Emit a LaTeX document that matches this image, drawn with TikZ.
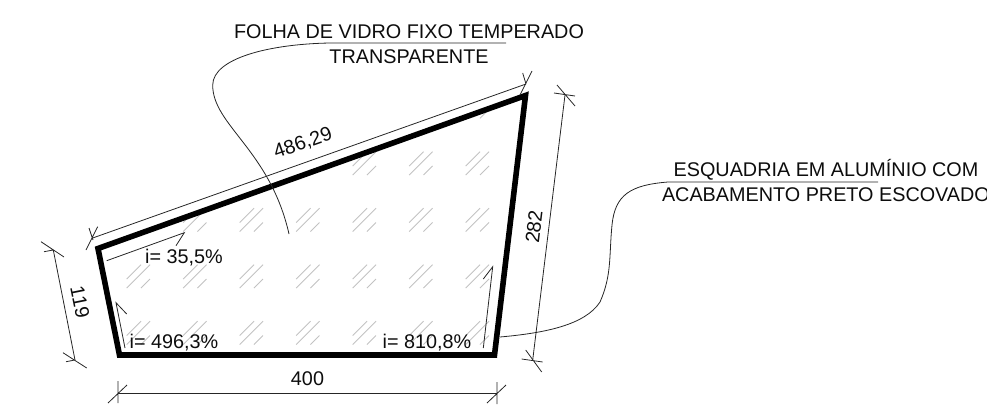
\documentclass[tikz,border=0pt]{standalone}
\usepackage{fontspec}
\setmainfont{Liberation Sans}
\tikzset{
  every node/.style={inner sep=0pt,outer sep=0pt,text=black!95,font=\fontsize{19.8}{22}\selectfont},
  frame/.style={draw=black,line width=5.6pt,miter limit=10},
  thin line/.style={draw=black!85,line width=0.8pt},
  hatch/.style={draw=black!24,line width=0.8pt}
}
\begin{document}
\begin{tikzpicture}[x=1pt,y=-1pt]
\useasboundingbox (0,0) rectangle (987,405);
% corners of the frame
\coordinate (A) at (98,248.5);
\coordinate (B) at (525.5,95.5);
\coordinate (C) at (494.5,355);
\coordinate (D) at (119.5,355);
% glass hatching
\begin{scope}
\clip (A) -- (B) -- (C) -- (D) -- cycle;
\foreach \gy in {95,151.7,208.2,264.7,321.2}
  \foreach \gx in {126.7,183.2,239.7,296.2,352.7,409.2,465.7}
  {
    \draw[hatch] (\gx,\gy+14.3) -- (\gx+14.3,\gy);
    \draw[hatch] (\gx,\gy+23.3) -- (\gx+23.3,\gy);
    \draw[hatch] (\gx+14.3,\gy+23.3) -- (\gx+23.3,\gy+14.3);
  }
\end{scope}
\draw[frame] (A) -- (B) -- (C) -- (D) -- cycle;
% width
\coordinate (W1) at (118,393);
\coordinate (W2) at (497,393);
\draw[thin line] (W1) -- (W2);
\draw[thin line] (118,381) -- (118,403) (108,403) -- (127,385);
\draw[thin line] (497,382) -- (497,404) (487,403) -- (506,385);
\node (t400) at (307.5,379) {400};
% sloped top
\coordinate (T1) at (92.7,238);
\coordinate (T2) at (526,84);
\draw[thin line] (T1) -- (T2);
\draw[thin line] (86,250) -- (97.7,226.7) (89,228) -- (93,240);
\draw[thin line] (520,95) -- (532,71) (522.7,73) -- (526,84);
\node[rotate=19.5] (t486) at (303,143.5) {486,29};
% right side
\coordinate (R1) at (565,95);
\coordinate (R2) at (532.7,360);
\draw[thin line] (R1) -- (R2);
\draw[thin line] (554,93) -- (575,96) (557,85) -- (575,106);
\draw[thin line] (521.7,359) -- (542.7,362) (525.7,350) -- (541.7,372);
\node[rotate=83] (t282) at (534,226.7) {282};
% left side
\coordinate (L1) at (53.3,250);
\coordinate (L2) at (75,360);
\draw[thin line] (L1) -- (L2);
\draw[thin line] (41,241.7) -- (64,257) (44,251.7) -- (53.3,250);
\draw[thin line] (63,352.7) -- (86.7,368) (66,361.7) -- (75,360);
\node[rotate=-78.7] (t119) at (80,302) {119};
% slope arrows
\coordinate (S1a) at (106.7,260.7);
\coordinate (S1b) at (184.3,232.7);
\draw[thin line] (S1a) -- (S1b) -- (176,245.7);
\coordinate (S2a) at (125,348);
\coordinate (S2b) at (116,302.7);
\draw[thin line] (S2a) -- (S2b) -- (126.7,314);
\coordinate (S3a) at (483.3,348);
\coordinate (S3b) at (492.7,266.7);
\draw[thin line] (S3a) -- (S3b) -- (483.3,279);
\node (i1) at (184,258) {i= 35,5\%};
\node (i2) at (174,343) {i= 496,3\%};
\node (i3) at (427,343) {i= 810,8\%};
% glass callout
\node (g1) at (409,32) {FOLHA DE VIDRO FIXO TEMPERADO};
\node (g2) at (409,57) {TRANSPARENTE};
\coordinate (G0) at (506,43);
\coordinate (G1) at (330,43);
\coordinate (G2) at (289,234);
\draw[thin line] (G0) -- (G1)
  .. controls (270,44) and (213,58) .. (212.7,85)
  .. controls (212.5,125) and (270,150) .. (289,234);
% frame callout
\node (f1) at (826,170) {ESQUADRIA EM ALUMÍNIO COM};
\node[anchor=west] (f2) at (662,195) {ACABAMENTO PRETO ESCOVADO};
\coordinate (F0) at (878,182);
\coordinate (F1) at (668,182);
\coordinate (F2) at (500,337);
\draw[thin line] (F0) -- (F1)
  .. controls (630,185) and (615,195) .. (612,225)
  .. controls (609,255) and (612,275) .. (600,302)
  .. controls (585,325) and (545,333) .. (500,337);
\end{tikzpicture}
\end{document}
